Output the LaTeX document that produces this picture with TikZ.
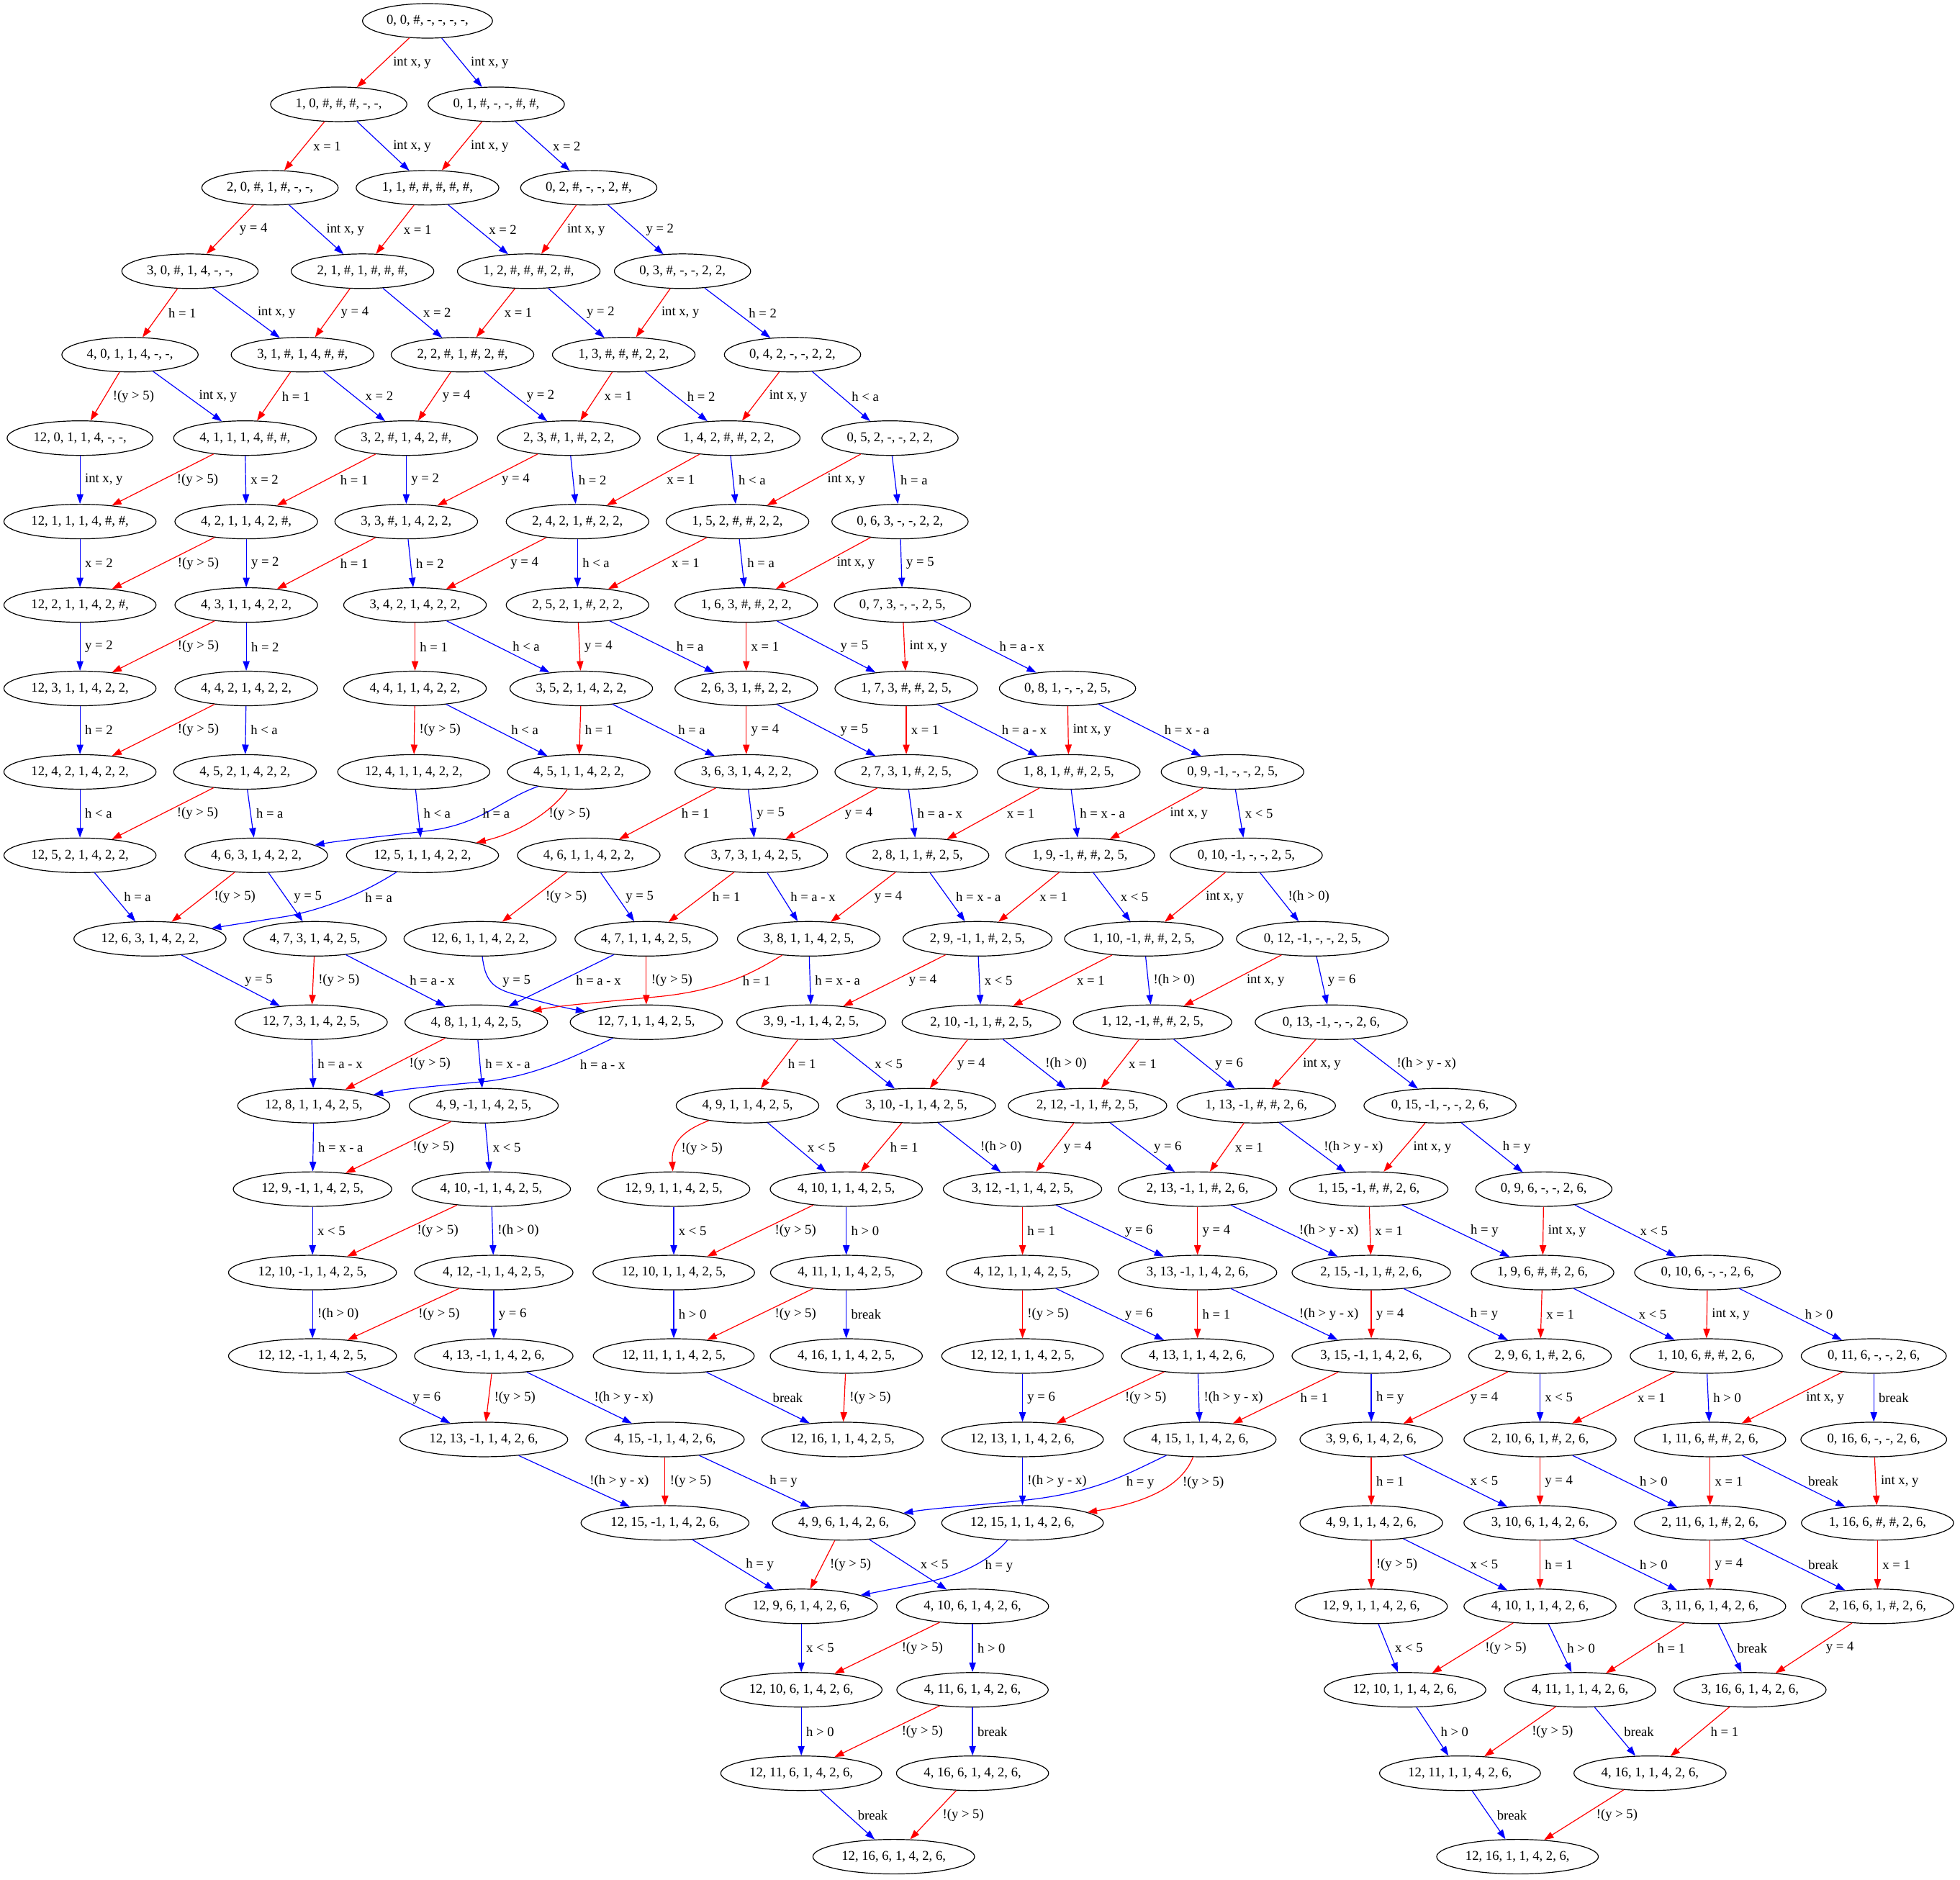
\documentclass[tikz,border=0pt]{standalone}
\usepackage{fontspec}
\setmainfont{Liberation Serif}
\usetikzlibrary{arrows.meta,calc,shapes.geometric}
\tikzset{
  gnd/.style={draw, ellipse, line width=0.9pt, inner xsep=5.3pt, inner ysep=0pt, minimum height=36pt, font=\fontsize{14}{16}\selectfont},
  edg/.style={line width=0.9pt, -{Triangle[length=10pt,width=7pt]}},
  redE/.style={edg, red},
  blueE/.style={edg, blue},
  lbl/.style={inner sep=0pt, anchor=west, font=\fontsize{14}{16}\selectfont}
}
\newcommand\gnode[4]{\node[gnd] (r#1c#2) at ({#3},{16.7+66.76*#1}) {#4};}
\newcommand\gedge[4]{\draw[#1] (#2) -- (#3);
  \path let \p1=(#2.center), \p2=(#3.center), \n1={abs(\x2-\x1)/abs(\y2-\y1)} in
    node[lbl, xshift={5pt+5pt*\n1}] at ($(\p1)!0.5!(\p2)$) {#4};}
\newcommand\glab[3]{\node[lbl] at (#1,#2) {#3};}
\begin{document}
\begin{tikzpicture}[x=1.30245pt, y=-1.30245pt]
\useasboundingbox (0,0) rectangle (1568,1504);
% ---------- nodes ----------
\gnode{0}{1}{342}{0, 0, \#, -, -, -, -,}
\gnode{1}{1}{271}{1, 0, \#, \#, \#, -, -,}
\gnode{1}{2}{397}{0, 1, \#, -, -, \#, \#,}
\gnode{2}{1}{216}{2, 0, \#, 1, \#, -, -,}
\gnode{2}{2}{342}{1, 1, \#, \#, \#, \#, \#,}
\gnode{2}{3}{471}{0, 2, \#, -, -, 2, \#,}
\gnode{3}{1}{152}{3, 0, \#, 1, 4, -, -,}
\gnode{3}{2}{290}{2, 1, \#, 1, \#, \#, \#,}
\gnode{3}{3}{423}{1, 2, \#, \#, \#, 2, \#,}
\gnode{3}{4}{546}{0, 3, \#, -, -, 2, 2,}
\gnode{4}{1}{104}{4, 0, 1, 1, 4, -, -,}
\gnode{4}{2}{242}{3, 1, \#, 1, 4, \#, \#,}
\gnode{4}{3}{370}{2, 2, \#, 1, \#, 2, \#,}
\gnode{4}{4}{499}{1, 3, \#, \#, \#, 2, 2,}
\gnode{4}{5}{634}{0, 4, 2, -, -, 2, 2,}
\gnode{5}{1}{64}{12, 0, 1, 1, 4, -, -,}
\gnode{5}{2}{196}{4, 1, 1, 1, 4, \#, \#,}
\gnode{5}{3}{325}{3, 2, \#, 1, 4, 2, \#,}
\gnode{5}{4}{455}{2, 3, \#, 1, \#, 2, 2,}
\gnode{5}{5}{583}{1, 4, 2, \#, \#, 2, 2,}
\gnode{5}{6}{712}{0, 5, 2, -, -, 2, 2,}
\gnode{6}{1}{64}{12, 1, 1, 1, 4, \#, \#,}
\gnode{6}{2}{197}{4, 2, 1, 1, 4, 2, \#,}
\gnode{6}{3}{325}{3, 3, \#, 1, 4, 2, 2,}
\gnode{6}{4}{462}{2, 4, 2, 1, \#, 2, 2,}
\gnode{6}{5}{590}{1, 5, 2, \#, \#, 2, 2,}
\gnode{6}{6}{720}{0, 6, 3, -, -, 2, 2,}
\gnode{7}{1}{64}{12, 2, 1, 1, 4, 2, \#,}
\gnode{7}{2}{197}{4, 3, 1, 1, 4, 2, 2,}
\gnode{7}{3}{332}{3, 4, 2, 1, 4, 2, 2,}
\gnode{7}{4}{462}{2, 5, 2, 1, \#, 2, 2,}
\gnode{7}{5}{597}{1, 6, 3, \#, \#, 2, 2,}
\gnode{7}{6}{722}{0, 7, 3, -, -, 2, 5,}
\gnode{8}{1}{64}{12, 3, 1, 1, 4, 2, 2,}
\gnode{8}{2}{197}{4, 4, 2, 1, 4, 2, 2,}
\gnode{8}{3}{332}{4, 4, 1, 1, 4, 2, 2,}
\gnode{8}{4}{465}{3, 5, 2, 1, 4, 2, 2,}
\gnode{8}{5}{597}{2, 6, 3, 1, \#, 2, 2,}
\gnode{8}{6}{725}{1, 7, 3, \#, \#, 2, 5,}
\gnode{8}{7}{854}{0, 8, 1, -, -, 2, 5,}
\gnode{9}{1}{64}{12, 4, 2, 1, 4, 2, 2,}
\gnode{9}{2}{196}{4, 5, 2, 1, 4, 2, 2,}
\gnode{9}{3}{331}{12, 4, 1, 1, 4, 2, 2,}
\gnode{9}{4}{463}{4, 5, 1, 1, 4, 2, 2,}
\gnode{9}{5}{597}{3, 6, 3, 1, 4, 2, 2,}
\gnode{9}{6}{725}{2, 7, 3, 1, \#, 2, 5,}
\gnode{9}{7}{855}{1, 8, 1, \#, \#, 2, 5,}
\gnode{9}{8}{986}{0, 9, -1, -, -, 2, 5,}
\gnode{10}{1}{64}{12, 5, 2, 1, 4, 2, 2,}
\gnode{10}{2}{205}{4, 6, 3, 1, 4, 2, 2,}
\gnode{10}{3}{338}{12, 5, 1, 1, 4, 2, 2,}
\gnode{10}{4}{471}{4, 6, 1, 1, 4, 2, 2,}
\gnode{10}{5}{605}{3, 7, 3, 1, 4, 2, 5,}
\gnode{10}{6}{734}{2, 8, 1, 1, \#, 2, 5,}
\gnode{10}{7}{864}{1, 9, -1, \#, \#, 2, 5,}
\gnode{10}{8}{997}{0, 10, -1, -, -, 2, 5,}
\gnode{11}{1}{120}{12, 6, 3, 1, 4, 2, 2,}
\gnode{11}{2}{252}{4, 7, 3, 1, 4, 2, 5,}
\gnode{11}{3}{384}{12, 6, 1, 1, 4, 2, 2,}
\gnode{11}{4}{517}{4, 7, 1, 1, 4, 2, 5,}
\gnode{11}{5}{647}{3, 8, 1, 1, 4, 2, 5,}
\gnode{11}{6}{782}{2, 9, -1, 1, \#, 2, 5,}
\gnode{11}{7}{915}{1, 10, -1, \#, \#, 2, 5,}
\gnode{11}{8}{1050}{0, 12, -1, -, -, 2, 5,}
\gnode{12}{1}{249}{12, 7, 3, 1, 4, 2, 5,}
\gnode{12}{2}{381}{4, 8, 1, 1, 4, 2, 5,}
\gnode{12}{3}{517}{12, 7, 1, 1, 4, 2, 5,}
\gnode{12}{4}{649}{3, 9, -1, 1, 4, 2, 5,}
\gnode{12}{5}{785}{2, 10, -1, 1, \#, 2, 5,}
\gnode{12}{6}{922}{1, 12, -1, \#, \#, 2, 5,}
\gnode{12}{7}{1065}{0, 13, -1, -, -, 2, 6,}
\gnode{13}{1}{251}{12, 8, 1, 1, 4, 2, 5,}
\gnode{13}{2}{387}{4, 9, -1, 1, 4, 2, 5,}
\gnode{13}{3}{598}{4, 9, 1, 1, 4, 2, 5,}
\gnode{13}{4}{733}{3, 10, -1, 1, 4, 2, 5,}
\gnode{13}{5}{870}{2, 12, -1, 1, \#, 2, 5,}
\gnode{13}{6}{1005}{1, 13, -1, \#, \#, 2, 6,}
\gnode{13}{7}{1152}{0, 15, -1, -, -, 2, 6,}
\gnode{14}{1}{250}{12, 9, -1, 1, 4, 2, 5,}
\gnode{14}{2}{393}{4, 10, -1, 1, 4, 2, 5,}
\gnode{14}{3}{539}{12, 9, 1, 1, 4, 2, 5,}
\gnode{14}{4}{677}{4, 10, 1, 1, 4, 2, 5,}
\gnode{14}{5}{818}{3, 12, -1, 1, 4, 2, 5,}
\gnode{14}{6}{958}{2, 13, -1, 1, \#, 2, 6,}
\gnode{14}{7}{1095}{1, 15, -1, \#, \#, 2, 6,}
\gnode{14}{8}{1235}{0, 9, 6, -, -, 2, 6,}
\gnode{15}{1}{250}{12, 10, -1, 1, 4, 2, 5,}
\gnode{15}{2}{395}{4, 12, -1, 1, 4, 2, 5,}
\gnode{15}{3}{539}{12, 10, 1, 1, 4, 2, 5,}
\gnode{15}{4}{677}{4, 11, 1, 1, 4, 2, 5,}
\gnode{15}{5}{818}{4, 12, 1, 1, 4, 2, 5,}
\gnode{15}{6}{958}{3, 13, -1, 1, 4, 2, 6,}
\gnode{15}{7}{1097}{2, 15, -1, 1, \#, 2, 6,}
\gnode{15}{8}{1234}{1, 9, 6, \#, \#, 2, 6,}
\gnode{15}{9}{1366}{0, 10, 6, -, -, 2, 6,}
\gnode{16}{1}{250}{12, 12, -1, 1, 4, 2, 5,}
\gnode{16}{2}{395}{4, 13, -1, 1, 4, 2, 6,}
\gnode{16}{3}{539}{12, 11, 1, 1, 4, 2, 5,}
\gnode{16}{4}{677}{4, 16, 1, 1, 4, 2, 5,}
\gnode{16}{5}{818}{12, 12, 1, 1, 4, 2, 5,}
\gnode{16}{6}{958}{4, 13, 1, 1, 4, 2, 6,}
\gnode{16}{7}{1097}{3, 15, -1, 1, 4, 2, 6,}
\gnode{16}{8}{1232}{2, 9, 6, 1, \#, 2, 6,}
\gnode{16}{9}{1365}{1, 10, 6, \#, \#, 2, 6,}
\gnode{16}{10}{1499}{0, 11, 6, -, -, 2, 6,}
\gnode{17}{1}{387}{12, 13, -1, 1, 4, 2, 6,}
\gnode{17}{2}{532}{4, 15, -1, 1, 4, 2, 6,}
\gnode{17}{3}{674}{12, 16, 1, 1, 4, 2, 5,}
\gnode{17}{4}{818}{12, 13, 1, 1, 4, 2, 6,}
\gnode{17}{5}{960}{4, 15, 1, 1, 4, 2, 6,}
\gnode{17}{6}{1097}{3, 9, 6, 1, 4, 2, 6,}
\gnode{17}{7}{1232}{2, 10, 6, 1, \#, 2, 6,}
\gnode{17}{8}{1368}{1, 11, 6, \#, \#, 2, 6,}
\gnode{17}{9}{1499}{0, 16, 6, -, -, 2, 6,}
\gnode{18}{1}{532}{12, 15, -1, 1, 4, 2, 6,}
\gnode{18}{2}{675}{4, 9, 6, 1, 4, 2, 6,}
\gnode{18}{3}{818}{12, 15, 1, 1, 4, 2, 6,}
\gnode{18}{4}{1097}{4, 9, 1, 1, 4, 2, 6,}
\gnode{18}{5}{1232}{3, 10, 6, 1, 4, 2, 6,}
\gnode{18}{6}{1368}{2, 11, 6, 1, \#, 2, 6,}
\gnode{18}{7}{1502}{1, 16, 6, \#, \#, 2, 6,}
\gnode{19}{1}{641}{12, 9, 6, 1, 4, 2, 6,}
\gnode{19}{2}{778}{4, 10, 6, 1, 4, 2, 6,}
\gnode{19}{3}{1097}{12, 9, 1, 1, 4, 2, 6,}
\gnode{19}{4}{1232}{4, 10, 1, 1, 4, 2, 6,}
\gnode{19}{5}{1368}{3, 11, 6, 1, 4, 2, 6,}
\gnode{19}{6}{1502}{2, 16, 6, 1, \#, 2, 6,}
\gnode{20}{1}{641}{12, 10, 6, 1, 4, 2, 6,}
\gnode{20}{2}{778}{4, 11, 6, 1, 4, 2, 6,}
\gnode{20}{3}{1124}{12, 10, 1, 1, 4, 2, 6,}
\gnode{20}{4}{1264}{4, 11, 1, 1, 4, 2, 6,}
\gnode{20}{5}{1400}{3, 16, 6, 1, 4, 2, 6,}
\gnode{21}{1}{641}{12, 11, 6, 1, 4, 2, 6,}
\gnode{21}{2}{778}{4, 16, 6, 1, 4, 2, 6,}
\gnode{21}{3}{1168}{12, 11, 1, 1, 4, 2, 6,}
\gnode{21}{4}{1320}{4, 16, 1, 1, 4, 2, 6,}
\gnode{22}{1}{715}{12, 16, 6, 1, 4, 2, 6,}
\gnode{22}{2}{1214}{12, 16, 1, 1, 4, 2, 6,}
% ---------- straight edges ----------
\gedge{redE}{r0c1}{r1c1}{int x, y}
\gedge{blueE}{r0c1}{r1c2}{int x, y}
\gedge{redE}{r1c1}{r2c1}{x = 1}
\gedge{blueE}{r1c1}{r2c2}{int x, y}
\gedge{redE}{r1c2}{r2c2}{int x, y}
\gedge{blueE}{r1c2}{r2c3}{x = 2}
\gedge{redE}{r2c1}{r3c1}{y = 4}
\gedge{blueE}{r2c1}{r3c2}{int x, y}
\gedge{redE}{r2c2}{r3c2}{x = 1}
\gedge{blueE}{r2c2}{r3c3}{x = 2}
\gedge{redE}{r2c3}{r3c3}{int x, y}
\gedge{blueE}{r2c3}{r3c4}{y = 2}
\gedge{redE}{r3c1}{r4c1}{h = 1}
\gedge{blueE}{r3c1}{r4c2}{int x, y}
\gedge{redE}{r3c2}{r4c2}{y = 4}
\gedge{blueE}{r3c2}{r4c3}{x = 2}
\gedge{redE}{r3c3}{r4c3}{x = 1}
\gedge{blueE}{r3c3}{r4c4}{y = 2}
\gedge{redE}{r3c4}{r4c4}{int x, y}
\gedge{blueE}{r3c4}{r4c5}{h = 2}
\gedge{redE}{r4c1}{r5c1}{!(y > 5)}
\gedge{blueE}{r4c1}{r5c2}{int x, y}
\gedge{redE}{r4c2}{r5c2}{h = 1}
\gedge{blueE}{r4c2}{r5c3}{x = 2}
\gedge{redE}{r4c3}{r5c3}{y = 4}
\gedge{blueE}{r4c3}{r5c4}{y = 2}
\gedge{redE}{r4c4}{r5c4}{x = 1}
\gedge{blueE}{r4c4}{r5c5}{h = 2}
\gedge{redE}{r4c5}{r5c5}{int x, y}
\gedge{blueE}{r4c5}{r5c6}{h < a}
\gedge{blueE}{r5c1}{r6c1}{int x, y}
\gedge{redE}{r5c2}{r6c1}{!(y > 5)}
\gedge{blueE}{r5c2}{r6c2}{x = 2}
\gedge{redE}{r5c3}{r6c2}{h = 1}
\gedge{blueE}{r5c3}{r6c3}{y = 2}
\gedge{redE}{r5c4}{r6c3}{y = 4}
\gedge{blueE}{r5c4}{r6c4}{h = 2}
\gedge{redE}{r5c5}{r6c4}{x = 1}
\gedge{blueE}{r5c5}{r6c5}{h < a}
\gedge{redE}{r5c6}{r6c5}{int x, y}
\gedge{blueE}{r5c6}{r6c6}{h = a}
\gedge{blueE}{r6c1}{r7c1}{x = 2}
\gedge{redE}{r6c2}{r7c1}{!(y > 5)}
\gedge{blueE}{r6c2}{r7c2}{y = 2}
\gedge{redE}{r6c3}{r7c2}{h = 1}
\gedge{blueE}{r6c3}{r7c3}{h = 2}
\gedge{redE}{r6c4}{r7c3}{y = 4}
\gedge{blueE}{r6c4}{r7c4}{h < a}
\gedge{redE}{r6c5}{r7c4}{x = 1}
\gedge{blueE}{r6c5}{r7c5}{h = a}
\gedge{redE}{r6c6}{r7c5}{int x, y}
\gedge{blueE}{r6c6}{r7c6}{y = 5}
\gedge{blueE}{r7c1}{r8c1}{y = 2}
\gedge{redE}{r7c2}{r8c1}{!(y > 5)}
\gedge{blueE}{r7c2}{r8c2}{h = 2}
\gedge{redE}{r7c3}{r8c3}{h = 1}
\gedge{blueE}{r7c3}{r8c4}{h < a}
\gedge{redE}{r7c4}{r8c4}{y = 4}
\gedge{blueE}{r7c4}{r8c5}{h = a}
\gedge{redE}{r7c5}{r8c5}{x = 1}
\gedge{blueE}{r7c5}{r8c6}{y = 5}
\gedge{redE}{r7c6}{r8c6}{int x, y}
\gedge{blueE}{r7c6}{r8c7}{h = a - x}
\gedge{blueE}{r8c1}{r9c1}{h = 2}
\gedge{redE}{r8c2}{r9c1}{!(y > 5)}
\gedge{blueE}{r8c2}{r9c2}{h < a}
\gedge{redE}{r8c3}{r9c3}{!(y > 5)}
\gedge{blueE}{r8c3}{r9c4}{h < a}
\gedge{redE}{r8c4}{r9c4}{h = 1}
\gedge{blueE}{r8c4}{r9c5}{h = a}
\gedge{redE}{r8c5}{r9c5}{y = 4}
\gedge{blueE}{r8c5}{r9c6}{y = 5}
\gedge{redE}{r8c6}{r9c6}{x = 1}
\gedge{blueE}{r8c6}{r9c7}{h = a - x}
\gedge{redE}{r8c7}{r9c7}{int x, y}
\gedge{blueE}{r8c7}{r9c8}{h = x - a}
\gedge{blueE}{r9c1}{r10c1}{h < a}
\gedge{redE}{r9c2}{r10c1}{!(y > 5)}
\gedge{blueE}{r9c2}{r10c2}{h = a}
\gedge{blueE}{r9c3}{r10c3}{h < a}
\gedge{redE}{r9c5}{r10c4}{h = 1}
\gedge{blueE}{r9c5}{r10c5}{y = 5}
\gedge{redE}{r9c6}{r10c5}{y = 4}
\gedge{blueE}{r9c6}{r10c6}{h = a - x}
\gedge{redE}{r9c7}{r10c6}{x = 1}
\gedge{blueE}{r9c7}{r10c7}{h = x - a}
\gedge{redE}{r9c8}{r10c7}{int x, y}
\gedge{blueE}{r9c8}{r10c8}{x < 5}
\gedge{blueE}{r10c1}{r11c1}{h = a}
\gedge{redE}{r10c2}{r11c1}{!(y > 5)}
\gedge{blueE}{r10c2}{r11c2}{y = 5}
\gedge{redE}{r10c4}{r11c3}{!(y > 5)}
\gedge{blueE}{r10c4}{r11c4}{y = 5}
\gedge{redE}{r10c5}{r11c4}{h = 1}
\gedge{blueE}{r10c5}{r11c5}{h = a - x}
\gedge{redE}{r10c6}{r11c5}{y = 4}
\gedge{blueE}{r10c6}{r11c6}{h = x - a}
\gedge{redE}{r10c7}{r11c6}{x = 1}
\gedge{blueE}{r10c7}{r11c7}{x < 5}
\gedge{redE}{r10c8}{r11c7}{int x, y}
\gedge{blueE}{r10c8}{r11c8}{!(h > 0)}
\gedge{blueE}{r11c1}{r12c1}{y = 5}
\gedge{redE}{r11c2}{r12c1}{!(y > 5)}
\gedge{blueE}{r11c2}{r12c2}{h = a - x}
\gedge{blueE}{r11c4}{r12c2}{h = a - x}
\gedge{redE}{r11c4}{r12c3}{!(y > 5)}
\gedge{blueE}{r11c5}{r12c4}{h = x - a}
\gedge{redE}{r11c6}{r12c4}{y = 4}
\gedge{blueE}{r11c6}{r12c5}{x < 5}
\gedge{redE}{r11c7}{r12c5}{x = 1}
\gedge{blueE}{r11c7}{r12c6}{!(h > 0)}
\gedge{redE}{r11c8}{r12c6}{int x, y}
\gedge{blueE}{r11c8}{r12c7}{y = 6}
\gedge{blueE}{r12c1}{r13c1}{h = a - x}
\gedge{redE}{r12c2}{r13c1}{!(y > 5)}
\gedge{blueE}{r12c2}{r13c2}{h = x - a}
\gedge{redE}{r12c4}{r13c3}{h = 1}
\gedge{blueE}{r12c4}{r13c4}{x < 5}
\gedge{redE}{r12c5}{r13c4}{y = 4}
\gedge{blueE}{r12c5}{r13c5}{!(h > 0)}
\gedge{redE}{r12c6}{r13c5}{x = 1}
\gedge{blueE}{r12c6}{r13c6}{y = 6}
\gedge{redE}{r12c7}{r13c6}{int x, y}
\gedge{blueE}{r12c7}{r13c7}{!(h > y - x)}
\gedge{blueE}{r13c1}{r14c1}{h = x - a}
\gedge{redE}{r13c2}{r14c1}{!(y > 5)}
\gedge{blueE}{r13c2}{r14c2}{x < 5}
\gedge{blueE}{r13c3}{r14c4}{x < 5}
\gedge{redE}{r13c4}{r14c4}{h = 1}
\gedge{blueE}{r13c4}{r14c5}{!(h > 0)}
\gedge{redE}{r13c5}{r14c5}{y = 4}
\gedge{blueE}{r13c5}{r14c6}{y = 6}
\gedge{redE}{r13c6}{r14c6}{x = 1}
\gedge{blueE}{r13c6}{r14c7}{!(h > y - x)}
\gedge{redE}{r13c7}{r14c7}{int x, y}
\gedge{blueE}{r13c7}{r14c8}{h = y}
\gedge{blueE}{r14c1}{r15c1}{x < 5}
\gedge{redE}{r14c2}{r15c1}{!(y > 5)}
\gedge{blueE}{r14c2}{r15c2}{!(h > 0)}
\gedge{blueE}{r14c3}{r15c3}{x < 5}
\gedge{redE}{r14c4}{r15c3}{!(y > 5)}
\gedge{blueE}{r14c4}{r15c4}{h > 0}
\gedge{redE}{r14c5}{r15c5}{h = 1}
\gedge{blueE}{r14c5}{r15c6}{y = 6}
\gedge{redE}{r14c6}{r15c6}{y = 4}
\gedge{blueE}{r14c6}{r15c7}{!(h > y - x)}
\gedge{redE}{r14c7}{r15c7}{x = 1}
\gedge{blueE}{r14c7}{r15c8}{h = y}
\gedge{redE}{r14c8}{r15c8}{int x, y}
\gedge{blueE}{r14c8}{r15c9}{x < 5}
\gedge{blueE}{r15c1}{r16c1}{!(h > 0)}
\gedge{redE}{r15c2}{r16c1}{!(y > 5)}
\gedge{blueE}{r15c2}{r16c2}{y = 6}
\gedge{blueE}{r15c3}{r16c3}{h > 0}
\gedge{redE}{r15c4}{r16c3}{!(y > 5)}
\gedge{blueE}{r15c4}{r16c4}{break}
\gedge{redE}{r15c5}{r16c5}{!(y > 5)}
\gedge{blueE}{r15c5}{r16c6}{y = 6}
\gedge{redE}{r15c6}{r16c6}{h = 1}
\gedge{blueE}{r15c6}{r16c7}{!(h > y - x)}
\gedge{redE}{r15c7}{r16c7}{y = 4}
\gedge{blueE}{r15c7}{r16c8}{h = y}
\gedge{redE}{r15c8}{r16c8}{x = 1}
\gedge{blueE}{r15c8}{r16c9}{x < 5}
\gedge{redE}{r15c9}{r16c9}{int x, y}
\gedge{blueE}{r15c9}{r16c10}{h > 0}
\gedge{blueE}{r16c1}{r17c1}{y = 6}
\gedge{redE}{r16c2}{r17c1}{!(y > 5)}
\gedge{blueE}{r16c2}{r17c2}{!(h > y - x)}
\gedge{blueE}{r16c3}{r17c3}{break}
\gedge{redE}{r16c4}{r17c3}{!(y > 5)}
\gedge{blueE}{r16c5}{r17c4}{y = 6}
\gedge{redE}{r16c6}{r17c4}{!(y > 5)}
\gedge{blueE}{r16c6}{r17c5}{!(h > y - x)}
\gedge{redE}{r16c7}{r17c5}{h = 1}
\gedge{blueE}{r16c7}{r17c6}{h = y}
\gedge{redE}{r16c8}{r17c6}{y = 4}
\gedge{blueE}{r16c8}{r17c7}{x < 5}
\gedge{redE}{r16c9}{r17c7}{x = 1}
\gedge{blueE}{r16c9}{r17c8}{h > 0}
\gedge{redE}{r16c10}{r17c8}{int x, y}
\gedge{blueE}{r16c10}{r17c9}{break}
\gedge{blueE}{r17c1}{r18c1}{!(h > y - x)}
\gedge{redE}{r17c2}{r18c1}{!(y > 5)}
\gedge{blueE}{r17c2}{r18c2}{h = y}
\gedge{blueE}{r17c4}{r18c3}{!(h > y - x)}
\gedge{redE}{r17c6}{r18c4}{h = 1}
\gedge{blueE}{r17c6}{r18c5}{x < 5}
\gedge{redE}{r17c7}{r18c5}{y = 4}
\gedge{blueE}{r17c7}{r18c6}{h > 0}
\gedge{redE}{r17c8}{r18c6}{x = 1}
\gedge{blueE}{r17c8}{r18c7}{break}
\gedge{redE}{r17c9}{r18c7}{int x, y}
\gedge{blueE}{r18c1}{r19c1}{h = y}
\gedge{redE}{r18c2}{r19c1}{!(y > 5)}
\gedge{blueE}{r18c2}{r19c2}{x < 5}
\gedge{redE}{r18c4}{r19c3}{!(y > 5)}
\gedge{blueE}{r18c4}{r19c4}{x < 5}
\gedge{redE}{r18c5}{r19c4}{h = 1}
\gedge{blueE}{r18c5}{r19c5}{h > 0}
\gedge{redE}{r18c6}{r19c5}{y = 4}
\gedge{blueE}{r18c6}{r19c6}{break}
\gedge{redE}{r18c7}{r19c6}{x = 1}
\gedge{blueE}{r19c1}{r20c1}{x < 5}
\gedge{redE}{r19c2}{r20c1}{!(y > 5)}
\gedge{blueE}{r19c2}{r20c2}{h > 0}
\gedge{blueE}{r19c3}{r20c3}{x < 5}
\gedge{redE}{r19c4}{r20c3}{!(y > 5)}
\gedge{blueE}{r19c4}{r20c4}{h > 0}
\gedge{redE}{r19c5}{r20c4}{h = 1}
\gedge{blueE}{r19c5}{r20c5}{break}
\gedge{redE}{r19c6}{r20c5}{y = 4}
\gedge{blueE}{r20c1}{r21c1}{h > 0}
\gedge{redE}{r20c2}{r21c1}{!(y > 5)}
\gedge{blueE}{r20c2}{r21c2}{break}
\gedge{blueE}{r20c3}{r21c3}{h > 0}
\gedge{redE}{r20c4}{r21c3}{!(y > 5)}
\gedge{blueE}{r20c4}{r21c4}{break}
\gedge{redE}{r20c5}{r21c4}{h = 1}
\gedge{blueE}{r21c1}{r22c1}{break}
\gedge{redE}{r21c2}{r22c1}{!(y > 5)}
\gedge{blueE}{r21c3}{r22c2}{break}
\gedge{redE}{r21c4}{r22c2}{!(y > 5)}
% ---------- curved edges ----------
\draw[blueE] (r9c4) .. controls (400,640) and (385,660) .. (340,665) .. controls (300,670) and (275,672) .. (r10c2);
\glab{386}{651}{h = a}
\draw[redE] (r9c4) .. controls (445,645) and (420,665) .. (r10c3);
\glab{439}{651}{!(y > 5)}
\draw[blueE] (r10c3) .. controls (295,712) and (265,726) .. (230,733) .. controls (205,737) and (185,740) .. (r11c1);
\glab{292}{718}{h = a}
\draw[blueE] (r11c3) .. controls (388,782) and (392,790) .. (410,795) .. controls (430,801) and (450,806) .. (r12c3);
\glab{402}{785}{y = 5}
\draw[redE] (r11c5) .. controls (600,780) and (575,792) .. (530,797) .. controls (490,801) and (450,804) .. (r12c2);
\glab{594}{785}{h = 1}
\draw[blueE] (r12c3) .. controls (460,845) and (430,860) .. (390,865) .. controls (360,868) and (330,870) .. (r13c1);
\glab{464}{852}{h = a - x}
\draw[redE] (r13c3) .. controls (545,905) and (537,915) .. (r14c3);
\glab{545}{919}{!(y > 5)}
\draw[blueE] (r17c5) .. controls (900,1180) and (880,1192) .. (830,1199) .. controls (790,1204) and (750,1206) .. (r18c2);
\glab{901}{1186}{h = y}
\draw[redE] (r17c5) .. controls (948,1182) and (930,1200) .. (r18c3);
\glab{946}{1186}{!(y > 5)}
\draw[blueE] (r18c3) .. controls (795,1245) and (775,1258) .. (745,1265) .. controls (720,1270) and (700,1274) .. (r19c1);
\glab{788}{1253}{h = y}
\end{tikzpicture}
\end{document}
